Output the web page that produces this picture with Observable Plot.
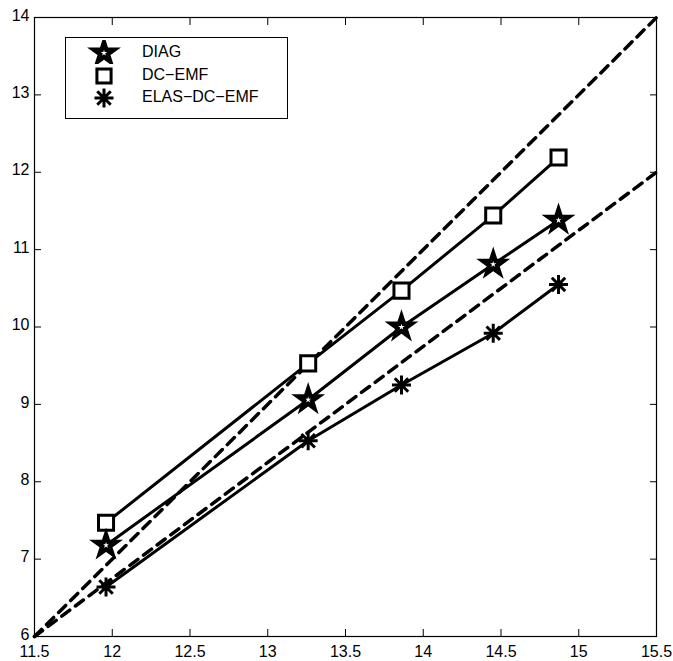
<!DOCTYPE html>
<html>
<head>
<meta charset="utf-8">
<script src="https://cdn.jsdelivr.net/npm/d3@7"></script>
<script src="https://cdn.jsdelivr.net/npm/@observablehq/plot@0.6"></script>
<style>
  html, body { margin: 0; padding: 0; background: #fff; }
  #wrap { position: relative; width: 673px; height: 661px; font-family: "Liberation Sans", Arial, sans-serif; }
  #legend { position: absolute; left: 65px; top: 37px; width: 223px; height: 82px; border: 1px solid #000; background: #fff; box-sizing: border-box; }
  .entry { position: absolute; left: 0; width: 220px; height: 24px; font-size: 16px; color: #000; }
  .entry svg { position: absolute; left: 0; top: 0; width: 70px; height: 24px; }
  .entry span { position: absolute; left: 76px; top: 3px; line-height: 18px; }
</style>
</head>
<body>
<div id="wrap"><div id="chart"></div><div id="legend"></div></div>
<script>
// ---- data ----
const xValues = [11.96, 13.26, 13.86, 14.45, 14.87];
const diagValues = [7.18, 9.06, 10.0, 10.81, 11.38];
const dcemfValues = [7.47, 9.53, 10.47, 11.44, 12.19];
const elasValues = [6.64, 8.53, 9.25, 9.92, 10.55];
const seriesNames = ["DIAG", "DC\u2212EMF", "ELAS\u2212DC\u2212EMF"];
const refX = [11.5, 15.5];
const refSteepY = [6, 14];
const refShallowY = [6, 12];
const xTicks = [11.5, 12, 12.5, 13, 13.5, 14, 14.5, 15, 15.5];
const yTicks = [6, 7, 8, 9, 10, 11, 12, 13, 14];

// 8-armed asterisk (MATLAB '*')
const asterisk8 = {
  draw(context, size) {
    const r = Math.sqrt(size / Math.PI);
    const d = r / Math.SQRT2;
    context.moveTo(-r, 0); context.lineTo(r, 0);
    context.moveTo(0, -r); context.lineTo(0, r);
    context.moveTo(-d, -d); context.lineTo(d, d);
    context.moveTo(-d, d); context.lineTo(d, -d);
  }
};

const makeRows = (ys) => xValues.map((x, i) => ({x, y: ys[i]}));
const diag = makeRows(diagValues);
const dcemf = makeRows(dcemfValues);
const elas = makeRows(elasValues);
const steep = refX.map((x, i) => ({x, y: refSteepY[i]}));
const shallow = refX.map((x, i) => ({x, y: refShallowY[i]}));

const lineStyle = {x: "x", y: "y", stroke: "#000", strokeWidth: 3, curve: "linear"};

const chart = Plot.plot({
  width: 673,
  height: 661,
  marginLeft: 34,
  marginRight: 17,
  marginTop: 17,
  marginBottom: 25,
  style: {fontFamily: "'Liberation Sans', Arial, sans-serif", fontSize: "16px", color: "#000", background: "#fff"},
  x: {domain: [11.5, 15.5]},
  y: {domain: [6, 14]},
  marks: [
    Plot.line(steep, {x: "x", y: "y", stroke: "#000", strokeWidth: 3.5, strokeDasharray: "10,7"}),
    Plot.line(shallow, {x: "x", y: "y", stroke: "#000", strokeWidth: 3.5, strokeDasharray: "10,7"}),
    Plot.line(dcemf, lineStyle),
    Plot.line(diag, lineStyle),
    Plot.line(elas, lineStyle),
    Plot.dot(dcemf, {x: "x", y: "y", symbol: "square", r: 8.5, stroke: "#000", strokeWidth: 3, fill: "#fff"}),
    Plot.dot(diag, {x: "x", y: "y", symbol: "star", r: 6.3, stroke: "#000", strokeWidth: 4.5, fill: "#fff", strokeLinejoin: "miter"}),
    Plot.dot(elas, {x: "x", y: "y", symbol: asterisk8, r: 9.5, stroke: "#000", strokeWidth: 3, fill: "none"}),
    Plot.frame({stroke: "#000", strokeWidth: 1.2}),
    Plot.axisX(xTicks, {anchor: "bottom", tickSize: 0, tickPadding: 9, label: null, tickFormat: d => String(d)}),
    Plot.axisX(xTicks, {anchor: "bottom", tickSize: -7, text: null, label: null, strokeWidth: 1}),
    Plot.axisX(xTicks, {anchor: "top", tickSize: -7, text: null, label: null, strokeWidth: 1}),
    Plot.axisY(yTicks, {anchor: "left", tickSize: 0, tickPadding: 5, dy: -2, label: null, tickFormat: d => String(d)}),
    Plot.axisY(yTicks, {anchor: "left", tickSize: -7, text: null, label: null, strokeWidth: 1}),
    Plot.axisY(yTicks, {anchor: "right", tickSize: -7, text: null, label: null, strokeWidth: 1})
  ]
});
document.getElementById("chart").append(chart);

// ---- legend (overlay) ----
const legendSymbols = [d3.symbolStar, d3.symbolSquare, asterisk8];
const legendFill = ["#fff", "#fff", "none"];
const legendSize = [Math.PI * 6.3 * 6.3, Math.PI * 8 * 8, Math.PI * 9.5 * 9.5];
const legendSW = [4.5, 3, 3];
const legend = d3.select("#legend");
seriesNames.forEach((name, i) => {
  const e = legend.append("div").attr("class", "entry").style("top", (2 + i * 22.5) + "px");
  const svg = e.append("svg");
  svg.append("path")
    .attr("transform", "translate(38,13)")
    .attr("d", d3.symbol(legendSymbols[i], legendSize[i])())
    .attr("fill", legendFill[i])
    .attr("stroke", "#000")
    .attr("stroke-width", legendSW[i])
    .attr("stroke-linejoin", "miter");
  e.append("span").text(name);
});
</script>
</body>
</html>
